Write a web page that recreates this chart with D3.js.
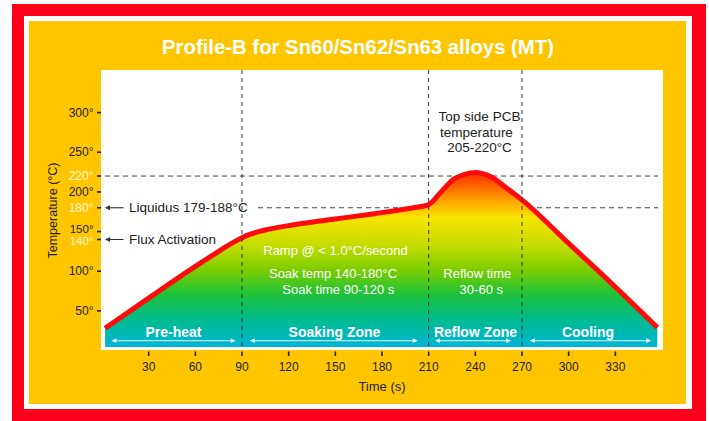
<!DOCTYPE html>
<html>
<head>
<meta charset="utf-8">
<script src="https://cdn.jsdelivr.net/npm/d3@7"></script>
<style>
  html, body { margin: 0; padding: 0; background: #fff; }
  svg { display: block; font-family: "Liberation Sans", Arial, Helvetica, sans-serif; }
</style>
</head>
<body>
<svg width="709" height="421"></svg>
<script>
// reflow profile, time (s) vs temperature (°C)
const times = [2, 30, 60, 75, 85, 95, 105, 120, 145, 175, 200, 210, 218, 226, 233, 240, 250, 260, 270, 300, 330, 357]
const temps = [28, 66, 106, 125, 137, 146.5, 152, 157.5, 164.5, 172.5, 180, 184, 200, 216, 222, 224.5, 219, 205, 190, 135, 80, 29]

const xTicks = [30, 60, 90, 120, 150, 180, 210, 240, 270, 300, 330]
const yTicks = [50, 100, 140, 150, 180, 200, 220, 250, 300]
const yTicksLight = [140, 180, 220]

const zoneBounds = [90, 210, 270]
const zoneNames = ["Pre-heat", "Soaking Zone", "Reflow Zone", "Cooling"]
const zoneArrows = [[6, 86], [95, 203], [214, 263], [275, 353]]

const svg = d3.select("svg")

// frame: red border, white line, yellow card
svg.append("rect").attr("x", 12).attr("y", 4).attr("width", 694).attr("height", 417).attr("fill", "#fc0019")
svg.append("rect").attr("x", 24).attr("y", 16).attr("width", 668).attr("height", 393).attr("fill", "#ffffff")
svg.append("rect").attr("x", 29).attr("y", 21).attr("width", 657).attr("height", 383).attr("fill", "#ffc600")

svg.append("text")
  .attr("x", 358).attr("y", 53.5)
  .attr("text-anchor", "middle")
  .attr("fill", "#fff")
  .attr("font-weight", "bold")
  .attr("font-size", 19.5)
  .attr("textLength", 392).attr("lengthAdjust", "spacingAndGlyphs")
  .text("Profile-B for Sn60/Sn62/Sn63 alloys (MT)")

// plot panel
svg.append("rect").attr("x", 101).attr("y", 70).attr("width", 562).attr("height", 280).attr("fill", "#fff")

const x = d3.scaleLinear().domain([0, 360]).range([102, 662])
const y = d3.scaleLinear().domain([0, 300]).range([350.5, 112.6])

const data = times.map((t, i) => ({ t: t, v: temps[i] }))

const defs = svg.append("defs")
const grad = defs.append("linearGradient")
  .attr("id", "heat")
  .attr("gradientUnits", "userSpaceOnUse")
  .attr("x1", 0).attr("x2", 0).attr("y1", 172).attr("y2", 347)
const stops = [
  [0, "#ff2a00"], [0.08, "#ff6400"], [0.18, "#ffae00"], [0.26, "#f8e400"],
  [0.42, "#c4dc00"], [0.56, "#7ccd00"], [0.70, "#1dc23a"], [0.84, "#00bb8c"], [1, "#00b5d8"]
]
grad.selectAll("stop").data(stops).enter().append("stop")
  .attr("offset", d => d[0]).attr("stop-color", d => d[1])

const dashColor = "#444"

// horizontal dashed guides sit behind the fill
svg.append("line")
  .attr("x1", 105).attr("x2", 658).attr("y1", y(220)).attr("y2", y(220))
  .attr("stroke", dashColor).attr("stroke-dasharray", "5,4")
svg.append("line")
  .attr("x1", 258).attr("x2", 658).attr("y1", y(180)).attr("y2", y(180))
  .attr("stroke", dashColor).attr("stroke-dasharray", "5,4")

const area = d3.area()
  .x(d => x(d.t))
  .y0(y(4.4))
  .y1(d => y(d.v))
  .curve(d3.curveMonotoneX)

const line = d3.line()
  .x(d => x(d.t))
  .y(d => y(d.v))
  .curve(d3.curveMonotoneX)

svg.append("path").datum(data).attr("d", area).attr("fill", "url(#heat)")
svg.append("path").datum(data).attr("d", line)
  .attr("fill", "none").attr("stroke", "#ff0a0a").attr("stroke-width", 5).attr("stroke-linejoin", "round")

// vertical zone dividers on top of the fill
svg.selectAll("line.zone").data(zoneBounds).enter().append("line")
  .attr("class", "zone")
  .attr("x1", d => x(d)).attr("x2", d => x(d))
  .attr("y1", 70).attr("y2", y(4.4))
  .attr("stroke", "#333").attr("stroke-dasharray", "4,4")

// axes
const yAxis = svg.append("g")
yAxis.selectAll("line").data(yTicks).enter().append("line")
  .attr("x1", 97).attr("x2", 101).attr("y1", d => y(d)).attr("y2", d => y(d))
  .attr("stroke", "#222").attr("stroke-width", 1.6)
yAxis.selectAll("text").data(yTicks).enter().append("text")
  .attr("x", 93.5).attr("y", d => y(d) + (d === 150 ? -2.5 : d === 140 ? 2 : 0))
  .attr("text-anchor", "end").attr("dominant-baseline", "central")
  .attr("font-size", d => (d === 140 || d === 150) ? 11.5 : 12)
  .attr("fill", d => yTicksLight.includes(d) ? "#fff7dc" : "#1e1e1e")
  .text(d => d + "°")

const xAxis = svg.append("g")
xAxis.selectAll("line").data(xTicks).enter().append("line")
  .attr("x1", d => x(d)).attr("x2", d => x(d)).attr("y1", 351.5).attr("y2", 356)
  .attr("stroke", "#222").attr("stroke-width", 1.6)
xAxis.selectAll("text").data(xTicks).enter().append("text")
  .attr("x", d => x(d)).attr("y", 366.5)
  .attr("text-anchor", "middle").attr("dominant-baseline", "central")
  .attr("font-size", 12).attr("fill", "#1e1e1e")
  .text(d => d)

svg.append("text")
  .attr("x", x(180)).attr("y", 386.5)
  .attr("text-anchor", "middle").attr("dominant-baseline", "central")
  .attr("font-size", 13).attr("fill", "#1e1e1e")
  .text("Time (s)")

svg.append("text")
  .attr("transform", "translate(52.5," + 210.5 + ") rotate(-90)")
  .attr("text-anchor", "middle").attr("dominant-baseline", "central")
  .attr("font-size", 12.5).attr("fill", "#1e1e1e")
  .text("Temperature (°C)")

// left side notes with arrows
const notes = [[180, "Liquidus 179-188°C"], [140, "Flux Activation"]]
notes.forEach(n => {
  const yy = y(n[0])
  svg.append("line").attr("x1", 106).attr("x2", 123.5).attr("y1", yy).attr("y2", yy)
    .attr("stroke", "#333").attr("stroke-width", 1.1)
  svg.append("path").attr("d", `M105,${yy} l5,-2.6 l0,5.2 z`).attr("fill", "#333")
  svg.append("text").attr("x", 129).attr("y", yy)
    .attr("dominant-baseline", "central").attr("font-size", 13.5).attr("fill", "#222")
    .text(n[1])
})

// peak note
const peakNote = [["Top side PCB", 479.5, 116.7], ["temperature", 476.5, 132.7], ["205-220°C", 479.5, 147.5]]
svg.selectAll("text.peak").data(peakNote).enter().append("text")
  .attr("class", "peak")
  .attr("x", d => d[1]).attr("y", d => d[2])
  .attr("text-anchor", "middle").attr("dominant-baseline", "central")
  .attr("font-size", 13.5).attr("fill", "#222")
  .text(d => d[0])

// white notes inside the fill
const innerNotes = [
  ["Ramp @ < 1.0°C/second", 335.5, 250],
  ["Soak temp 140-180°C", 333, 273.3],
  ["Soak time 90-120 s", 338.3, 289],
  ["Reflow time", 477.3, 273.3],
  ["30-60 s", 481.3, 289]
]
svg.selectAll("text.inner").data(innerNotes).enter().append("text")
  .attr("class", "inner")
  .attr("x", d => d[1]).attr("y", d => d[2])
  .attr("text-anchor", "middle").attr("dominant-baseline", "central")
  .attr("font-size", 13).attr("fill", "#fff")
  .text(d => d[0])

// zone labels and double arrows
svg.selectAll("text.zname").data(zoneNames).enter().append("text")
  .attr("class", "zname")
  .attr("x", (d, i) => [173.5, 334.5, 475.5, 588][i])
  .attr("y", 332)
  .attr("text-anchor", "middle").attr("dominant-baseline", "central")
  .attr("font-size", 14).attr("font-weight", "bold").attr("fill", "#fff")
  .text(d => d)

const arrowColor = "#e4f6f4"
zoneArrows.forEach(a => {
  const x1 = x(a[0]), x2 = x(a[1]), yy = 340.7
  svg.append("line").attr("x1", x1 + 2).attr("x2", x2 - 2).attr("y1", yy).attr("y2", yy)
    .attr("stroke", arrowColor).attr("stroke-width", 1.1)
  svg.append("path").attr("d", `M${x1},${yy} l5,-2.4 l0,4.8 z M${x2},${yy} l-5,-2.4 l0,4.8 z`)
    .attr("fill", arrowColor)
})
</script>
</body>
</html>
